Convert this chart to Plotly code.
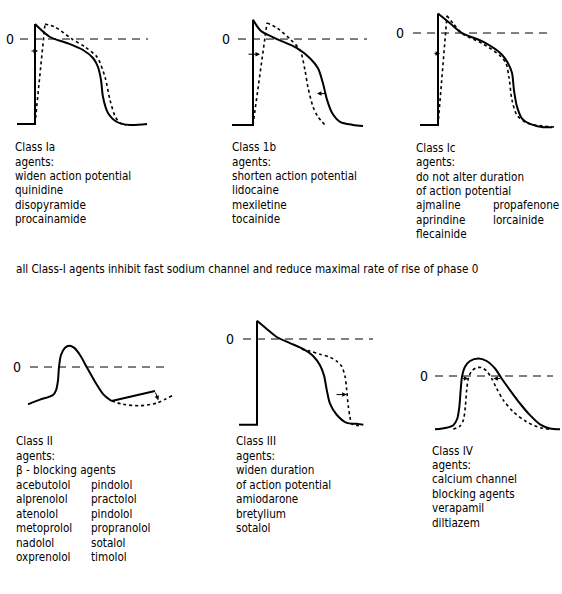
import plotly.graph_objects as go

W, H = 562, 594

# ---------------- data (t in ms, V in mV) ----------------
IA_CTRL_T = [-54, 0, 0, 45, 96, 144, 174, 189, 198, 204, 219, 246, 285, 336]
IA_CTRL_V = [-85, -85, 15, 2, -4, -11, -19, -28, -41, -58, -74, -83, -86, -85]
IA_DRUG_T = [0, 30, 60, 111, 150, 186, 210, 225, 240, 255, 273]
IA_DRUG_V = [-85, 15, 12, 0, -8, -18, -38, -61, -77, -84, -86]

IB_CTRL_T = [-63, 0, 0, 24, 72, 132, 171, 195, 210, 222, 237, 261, 300, 330]
IB_CTRL_V = [-85, -85, 19, 8, 0, -9, -19, -29, -44, -60, -73, -82, -85, -86]
IB_DRUG_T = [0, 42, 72, 111, 141, 156, 165, 180, 195, 216]
IB_DRUG_V = [-85, 16, 11, 0, -11, -31, -48, -67, -77, -85]

IC_CTRL_T = [-54, 0, 0, 36, 72, 135, 192, 210, 222, 228, 237, 252, 276, 315, 342]
IC_CTRL_V = [-85, -85, 18, 9, 0, -8, -20, -28, -37, -53, -68, -79, -84, -87, -87]
IC_DRUG_T = [0, 27, 45, 75, 135, 186, 204, 213, 222, 237, 267, 315, 357]
IC_DRUG_V = [-85, 16, 9, -1, -10, -21, -28, -41, -62, -76, -83, -86, -87]

II_CTRL_T = [0, 36, 75, 84, 90, 93, 99, 111, 124, 138, 156, 176, 201, 226, 251, 381]
II_CTRL_V = [-56, -49, -42, -35, -20, 0, 18, 29, 32, 29, 18, 0, -22, -41, -51, -36]
II_DRUG_T = [251, 286, 336, 386, 436]
II_DRUG_V = [-51, -56, -58, -54, -42]

III_CTRL_T = [-54, 0, 0, 29, 59, 99, 139, 169, 189, 201, 209, 219, 239, 269, 299, 319]
III_CTRL_V = [-85, -85, 18, 10, 2, -4, -10, -17, -26, -36, -50, -64, -75, -83, -84, -85]
III_DRUG_T = [134, 159, 189, 219, 239, 254, 264, 269, 274, 279, 284, 314]
III_DRUG_V = [-10, -12, -15, -18, -22, -27, -37, -50, -67, -77, -84, -86]

IV_CTRL_T = [0, 35, 55, 67, 73, 77, 81, 90, 105, 130, 155, 180, 200, 225, 255, 285, 315, 345, 375]
IV_CTRL_V = [-64, -62, -59, -51, -37, -17, -1, 11, 18, 21, 18, 9, -3, -17, -33, -47, -58, -63, -64]
IV_DRUG_T = [55, 75, 85, 91, 95, 100, 110, 125, 140, 155, 170, 185, 205, 235, 275, 315, 345]
IV_DRUG_V = [-64, -60, -53, -37, -17, -3, 6, 10, 10, 6, -3, -15, -29, -43, -55, -62, -64]

# zero-line extents (t start, t end) and label position (t) per panel
ZERO_T = {"Ia": (-45, 339), "Ib": (-45, 342), "Ic": (-75, 342),
          "II": (6, 411), "III": (-42, 348), "IV": (0, 354)}
ZERO_LABEL_T = {"Ia": -60, "Ib": -66, "Ic": -99, "II": -18, "III": -66, "IV": -18}

# arrows: (tail t, tail V, head t, head V)
ARROWS = {
    "Ia": [(-15, -12, 9, -12)],
    "Ib": [(-18, -15, 21, -15), (222, -54, 192, -54)],
    "Ic": [(-15, -19, 6, -19)],
    "II": [(381, -36, 391, -50)],
    "III": [(234, -55, 269, -55)],
    "IV": [(80, -3, 100, -3), (200, -3, 175, -3)],
}

# text
TXT_IA = ["Class Ia", "agents:", "widen action potential", "quinidine", "disopyramide", "procainamide"]
TXT_IB = ["Class 1b", "agents:", "shorten action potential", "lidocaine", "mexiletine", "tocainide"]
TXT_IC = ["Class Ic", "agents:", "do not alter duration", "of action potential", "ajmaline", "aprindine", "flecainide"]
TXT_IC_COL2 = ["propafenone", "lorcainide"]
TXT_MID = "all Class-I agents inhibit fast sodium channel and reduce maximal rate of rise of phase 0"
TXT_II = ["Class II", "agents:", "β - blocking agents", "acebutolol", "alprenolol", "atenolol", "metoprolol", "nadolol", "oxprenolol"]
TXT_II_COL2 = ["pindolol", "practolol", "pindolol", "propranolol", "sotalol", "timolol"]
TXT_III = ["Class III", "agents:", "widen duration", "of action potential", "amiodarone", "bretylium", "sotalol"]
TXT_IV = ["Class IV", "agents:", "calcium channel", "blocking agents", "verapamil", "diltiazem"]

# ---------------- layout helpers ----------------
PANELS = {
    "Ia":  dict(box=(0, 160, 5, 135),   xr=(-105, 375), yr=(-96, 34)),
    "Ib":  dict(box=(185, 375, 5, 135), xr=(-204, 366), yr=(-95, 33.7)),
    "Ic":  dict(box=(375, 562, 5, 135), xr=(-189, 372), yr=(-94.2, 25.9)),
    "II":  dict(box=(0, 185, 320, 430), xr=(-84, 471), yr=(-94.5, 70.5)),
    "III": dict(box=(185, 375, 295, 440), xr=(-216, 354), yr=(-100, 43.6)),
    "IV":  dict(box=(375, 562, 320, 440), xr=(-180, 381), yr=(-76.8, 67.2)),
}

FONT = "DejaVu Sans Condensed, Liberation Sans Narrow, sans-serif"
fig = go.Figure()
layout = dict(width=W, height=H, margin=dict(l=0, r=0, t=0, b=0),
              paper_bgcolor="white", plot_bgcolor="white", showlegend=False)
annotations = []

SOLID = dict(color="black", width=2)
DOTTED = dict(color="black", width=1.6, dash="3px,3px")
ZERO = dict(color="black", width=1, dash="8px,6px")

def add_line(ax, t, v, line, shape="spline"):
    fig.add_trace(go.Scatter(x=t, y=v, mode="lines", line=dict(**line, shape=shape,
                  **({"smoothing": 0.8} if shape == "spline" else {})),
                  xaxis="x" + ax, yaxis="y" + ax, hoverinfo="skip"))

for i, (name, p) in enumerate(PANELS.items(), start=1):
    ax = "" if i == 1 else str(i)
    L, R, T, B = p["box"]
    layout["xaxis" + ax] = dict(domain=[L / W, R / W], range=list(p["xr"]), visible=False,
                                anchor="y" + ax, fixedrange=True)
    layout["yaxis" + ax] = dict(domain=[1 - B / H, 1 - T / H], range=list(p["yr"]), visible=False,
                                anchor="x" + ax, fixedrange=True)
    p["ax"] = ax
    z0, z1 = ZERO_T[name]
    add_line(ax, [z0, z1], [0, 0], ZERO, "linear")
    annotations.append(dict(x=ZERO_LABEL_T[name], y=0, xref="x" + ax, yref="y" + ax,
                            text="0", showarrow=False, xanchor="right", yanchor="middle",
                            align="right", borderpad=0,
                            font=dict(family=FONT, size=14, color="black")))
    for (tx, tv, hx, hv) in ARROWS[name]:
        annotations.append(dict(x=hx, y=hv, ax=tx, ay=tv, xref="x" + ax, yref="y" + ax,
                                axref="x" + ax, ayref="y" + ax, text="", showarrow=True,
                                arrowhead=2, arrowsize=0.9, arrowwidth=1, arrowcolor="black"))

def ap(name, t, v, line, n_lin):
    ax = PANELS[name]["ax"]
    add_line(ax, t[:n_lin], v[:n_lin], line, "linear")
    add_line(ax, t[n_lin - 1:], v[n_lin - 1:], line, "spline")

ap("Ia", IA_CTRL_T, IA_CTRL_V, SOLID, 3)
ap("Ia", IA_DRUG_T, IA_DRUG_V, DOTTED, 2)
ap("Ib", IB_CTRL_T, IB_CTRL_V, SOLID, 3)
ap("Ib", IB_DRUG_T, IB_DRUG_V, DOTTED, 2)
ap("Ic", IC_CTRL_T, IC_CTRL_V, SOLID, 3)
ap("Ic", IC_DRUG_T, IC_DRUG_V, DOTTED, 2)
ap("III", III_CTRL_T, III_CTRL_V, SOLID, 3)
add_line(PANELS["III"]["ax"], III_DRUG_T, III_DRUG_V, DOTTED)
ax2 = PANELS["II"]["ax"]
add_line(ax2, II_CTRL_T[:-1], II_CTRL_V[:-1], SOLID)
add_line(ax2, II_CTRL_T[-2:], II_CTRL_V[-2:], SOLID, "linear")
add_line(ax2, II_DRUG_T, II_DRUG_V, DOTTED)
ax4 = PANELS["IV"]["ax"]
add_line(ax4, IV_CTRL_T, IV_CTRL_V, SOLID)
add_line(ax4, IV_DRUG_T, IV_DRUG_V, DOTTED)

# ---------------- text blocks ----------------
TF = dict(family=FONT, size=11.6, color="black")

def block(lines, x_px, y0_px, dy=14.4):
    for k, s in enumerate(lines):
        annotations.append(dict(x=x_px / W, y=1 - (y0_px + k * dy) / H, xref="paper", yref="paper",
                                text=s, showarrow=False, xanchor="left", yanchor="middle",
                                align="left", borderpad=0, font=TF))

block(TXT_IA, 14, 147.5, 14.3)
block(TXT_IB, 231, 147.5, 14.3)
block(TXT_IC, 415, 148, 14.3)
block(TXT_IC_COL2, 492, 148 + 4 * 14.3, 14.3)
block([TXT_MID], 15, 268.5)
block(TXT_II, 15, 441, 14.5)
block(TXT_II_COL2, 90, 441 + 3 * 14.5, 14.5)
block(TXT_III, 235, 441, 14.5)
block(TXT_IV, 431, 450.5, 14.4)

layout["annotations"] = annotations
fig.update_layout(**layout)
fig.write_html("out.html", config={"displayModeBar": False, "staticPlot": True},
               post_script="document.body.style.margin='0';document.body.style.padding='0';")
